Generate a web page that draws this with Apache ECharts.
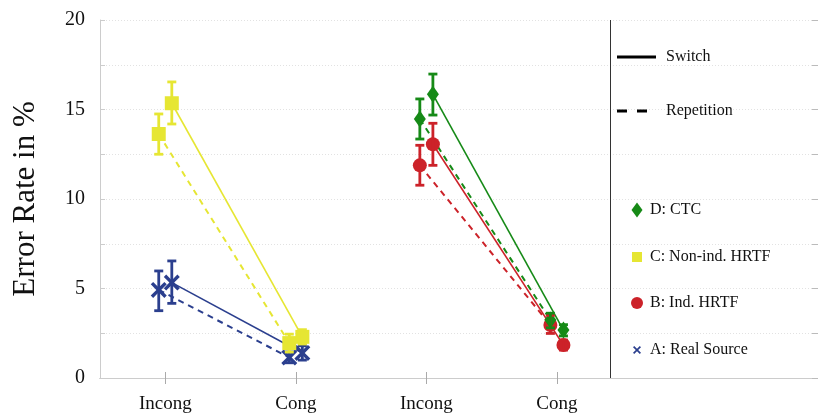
<!DOCTYPE html>
<html>
<head>
<meta charset="utf-8">
<script src="https://cdn.jsdelivr.net/npm/echarts@6/dist/echarts.min.js"></script>
<style>
html, body { margin: 0; padding: 0; background: #fff; }
#chart { width: 818px; height: 417px; }
</style>
</head>
<body>
<div id="chart"></div>
<script>
// x categories (condition positions) and their labels
var tickPos = [1, 2, 3, 4];
var tickLabels = ['Incong', 'Cong', 'Incong', 'Cong'];
var yLabelValues = [0, 5, 10, 15, 20];

// sources: A, B, C, D
var sourceNames = ['A: Real Source', 'B: Ind. HRTF', 'C: Non-ind. HRTF', 'D: CTC'];
var sourceCats = [[1, 2], [3, 4], [1, 2], [3, 4]];   // Incong / Cong category for each source

// switch trials: mean, lower, upper (Incong, Cong)
var switchMean = [[5.33, 1.40], [13.06, 1.84], [15.35, 2.30], [15.85, 2.68]];
var switchLow  = [[4.17, 1.00], [11.88, 1.56], [14.19, 1.90], [14.69, 2.35]];
var switchHigh = [[6.54, 1.80], [14.23, 2.12], [16.54, 2.70], [16.98, 2.98]];

// repetition trials: mean, lower, upper (Incong, Cong)
var repMean = [[4.92, 1.15], [11.88, 2.96], [13.63, 1.95], [14.47, 3.24]];
var repLow  = [[3.76, 0.85], [10.77, 2.49], [12.50, 1.45], [13.35, 2.80]];
var repHigh = [[5.98, 1.45], [13.00, 3.50], [14.75, 2.45], [15.59, 3.62]];

var dividerX = 4.41;

var colors = ['#2b3f8e', '#cc2229', '#e6e633', '#168a17'];
var xPath = 'path://M0,1.5L1.5,0L5,3.5L8.5,0L10,1.5L6.5,5L10,8.5L8.5,10L5,6.5L1.5,10L0,8.5L3.5,5Z';
var symbols = [xPath, 'circle', 'rect', 'diamond'];
var symbolSizes = [16, 14, 14, [12, 17]];
var legendSizes = [[8, 8], [12, 12], [10, 10], [11, 15]];
var legendTops = [350, 303, 257, 210];

var serif = 'Liberation Serif';
var offset = 0.05;

var chart = echarts.init(document.getElementById('chart'));

function renderErrorBar(params, api) {
    var x = api.value(0);
    var lo = api.coord([x, api.value(1)]);
    var hi = api.coord([x, api.value(2)]);
    var half = 4.5;
    var style = { stroke: api.visual('color'), lineWidth: 2.8 };
    return {
        type: 'group',
        children: [
            { type: 'line', shape: { x1: lo[0], y1: lo[1], x2: hi[0], y2: hi[1] }, style: style },
            { type: 'line', shape: { x1: lo[0] - half, y1: lo[1], x2: lo[0] + half, y2: lo[1] }, style: style },
            { type: 'line', shape: { x1: hi[0] - half, y1: hi[1], x2: hi[0] + half, y2: hi[1] }, style: style }
        ]
    };
}

var series = [];
for (var i = 0; i < sourceNames.length; i++) {
    var cats = sourceCats[i];
    var swData = [], rpData = [], errData = [];
    for (var k = 0; k < 2; k++) {
        swData.push([cats[k] + offset, switchMean[i][k]]);
        rpData.push([cats[k] - offset, repMean[i][k]]);
        errData.push([cats[k] + offset, switchLow[i][k], switchHigh[i][k]]);
        errData.push([cats[k] - offset, repLow[i][k], repHigh[i][k]]);
    }
    series.push({
        name: sourceNames[i],
        type: 'line',
        data: swData,
        symbol: symbols[i],
        symbolSize: symbolSizes[i],
        itemStyle: { color: colors[i] },
        lineStyle: { color: colors[i], width: 1.6, type: 'solid' },
        z: 3
    });
    series.push({
        name: sourceNames[i],
        type: 'line',
        data: rpData,
        symbol: symbols[i],
        symbolSize: symbolSizes[i],
        itemStyle: { color: colors[i] },
        lineStyle: { color: colors[i], width: 2, type: [6, 5] },
        z: 3
    });
    series.push({
        name: sourceNames[i],
        type: 'custom',
        renderItem: renderErrorBar,
        itemStyle: { color: colors[i] },
        encode: { x: 0, y: [1, 2] },
        data: errData,
        z: 4
    });
}

// line-style legend entries
series.push({
    name: 'Switch', type: 'line', data: [], symbol: 'none',
    itemStyle: { color: '#000' }, lineStyle: { color: '#000', width: 3 }
});
series.push({
    name: 'Repetition', type: 'line', data: [], symbol: 'none',
    itemStyle: { color: '#000' }, lineStyle: { color: '#000', width: 3, type: [10, 10] }
});

// divider between plot and legend
series.push({
    type: 'line', data: [], silent: true,
    markLine: {
        silent: true, symbol: 'none', label: { show: false },
        lineStyle: { color: '#333', width: 1, type: 'solid' },
        data: [{ xAxis: dividerX }]
    }
});

var legendText = { fontFamily: serif, fontSize: 16, color: '#111' };
var legends = [{
    data: [{ name: 'Switch', icon: 'rect' }],
    left: 617, top: 57 - 8,
    padding: 0,
    itemWidth: 39, itemHeight: 3,
    selectedMode: false,
    textStyle: Object.assign({ padding: [0, 0, 0, 5] }, legendText)
}, {
    data: [{ name: 'Repetition', icon: 'path://M0,0H10V3H0ZM20,0H30V3H20Z' }],
    left: 617, top: 111 - 8,
    padding: 0,
    itemWidth: 30, itemHeight: 3,
    selectedMode: false,
    textStyle: Object.assign({ padding: [0, 0, 0, 14] }, legendText)
}];
for (var j = 0; j < sourceNames.length; j++) {
    var sz = legendSizes[j];
    var h = Math.max(sz[1], 16);
    legends.push({
        data: [{ name: sourceNames[j], icon: symbols[j] }],
        left: 637 - sz[0] / 2, top: legendTops[j] - h / 2,
        padding: 0,
        itemWidth: sz[0], itemHeight: sz[1],
        selectedMode: false,
        textStyle: Object.assign({ padding: [0, 0, 0, 13 - sz[0] / 2 - 5] }, legendText)
    });
}

var option = {
    animation: false,
    backgroundColor: '#fff',
    grid: { left: 100, right: 0, top: 20, bottom: 39, containLabel: false, outerBoundsMode: 'none' },
    legend: legends,
    xAxis: [{
        type: 'value', position: 'bottom',
        min: 0.5, max: 6,
        axisLine: { show: true, lineStyle: { color: '#aaa', width: 1 } },
        axisTick: { show: true, inside: true, length: 6, customValues: tickPos, lineStyle: { color: '#aaa' } },
        axisLabel: {
            customValues: tickPos,
            margin: 17,
            fontFamily: serif, fontSize: 19, color: '#111',
            formatter: function (v) {
                var idx = tickPos.indexOf(Math.round(v));
                return idx >= 0 ? tickLabels[idx] : '';
            }
        },
        splitLine: { show: false }
    }, {
        type: 'value', position: 'top',
        min: 0.5, max: 6,
        axisLine: { show: true, lineStyle: { color: '#ccc', width: 1 } },
        axisTick: { show: true, inside: true, length: 6, customValues: tickPos, lineStyle: { color: '#aaa' } },
        axisLabel: { show: false },
        splitLine: { show: false }
    }],
    yAxis: [{
        type: 'value', position: 'left',
        min: 0, max: 20, interval: 2.5,
        name: 'Error Rate in %',
        nameLocation: 'middle',
        nameGap: 59,
        nameRotate: 90,
        nameTextStyle: { fontFamily: serif, fontSize: 31, color: '#111' },
        axisLine: { show: true, lineStyle: { color: '#ccc', width: 1 } },
        axisTick: { show: true, inside: true, length: 5, lineStyle: { color: '#ccc' } },
        axisLabel: {
            margin: 15,
            fontFamily: serif, fontSize: 20, color: '#111',
            formatter: function (v) { return yLabelValues.indexOf(v) >= 0 ? String(v) : ''; }
        },
        splitLine: { show: true, lineStyle: { color: '#e2e2e2', type: [1, 2], width: 1 } }
    }, {
        type: 'value', position: 'right',
        min: 0, max: 20, interval: 2.5,
        axisLine: { show: false },
        axisTick: { show: true, inside: true, length: 6, lineStyle: { color: '#bbb' } },
        axisLabel: { show: false },
        splitLine: { show: false }
    }],
    series: series
};

chart.setOption(option);
</script>
</body>
</html>
